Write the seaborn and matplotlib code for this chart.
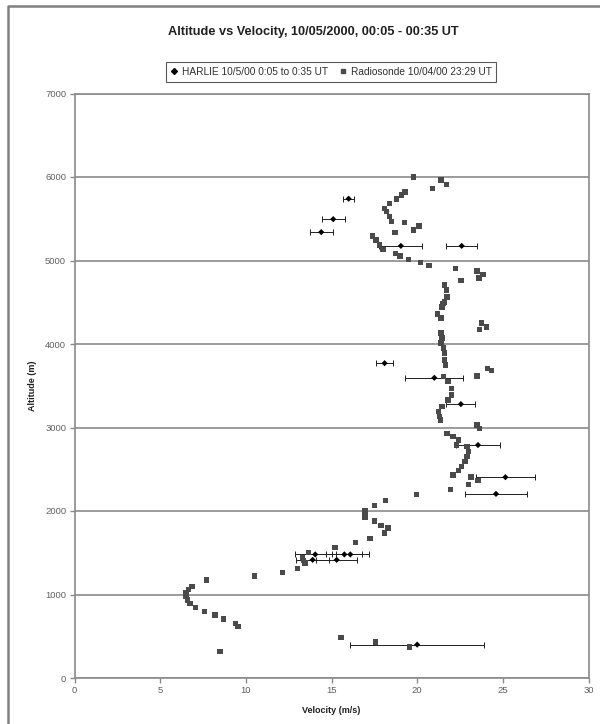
import matplotlib
matplotlib.use("Agg")
import matplotlib.pyplot as plt
import seaborn as sns
import pandas as pd
from matplotlib.lines import Line2D

# Radiosonde 10/04/00 23:29 UT
radio_vel = [19.8, 21.4, 21.7, 20.9, 19.3, 19.1, 18.8, 18.4, 18.1, 18.2, 18.4, 18.5,
             19.25, 18.7, 20.1, 19.8, 17.4, 17.6, 17.8, 18.0, 18.75, 19.0, 19.5, 20.2,
             20.7, 22.25, 23.5, 23.85, 23.6, 22.55, 21.6, 21.7, 21.75, 21.6, 21.45,
             21.5, 21.2, 21.4, 21.4, 21.45, 21.4, 21.55, 21.6, 21.6, 21.65,
             23.75, 24.05, 23.65, 23.5, 24.1, 24.35,
             21.55, 21.8, 22.0, 22.0, 21.8, 21.45, 21.25, 21.3, 21.35, 23.5, 23.65,
             21.75, 22.1, 22.4, 22.3, 22.9, 23.0, 22.9, 22.8, 22.6, 22.4, 22.1,
             23.15, 23.55, 23.0, 21.95, 19.95, 18.15, 17.5, 16.95, 16.95, 16.95,
             17.5, 17.9, 18.3, 18.1, 17.25, 16.4, 15.2,
             13.65, 13.3, 13.35, 13.45, 13.0, 12.15, 10.5, 7.7,
             6.85, 6.65, 6.5, 6.5, 6.6, 6.75, 7.05, 7.6, 8.2, 8.7, 9.4, 9.55, 8.5,
             15.55, 17.55, 19.55]
radio_alt = [6000, 5965, 5910, 5865, 5820, 5785, 5735, 5685, 5625, 5585, 5525, 5465,
             5455, 5335, 5415, 5365, 5295, 5245, 5185, 5135, 5085, 5055, 5015, 4975,
             4940, 4905, 4875, 4835, 4790, 4760, 4705, 4645, 4565, 4505, 4445,
             4485, 4360, 4310, 4130, 4070, 4010, 3950, 3890, 3810, 3750,
             4250, 4205, 4175, 3615, 3710, 3680,
             3610, 3550, 3470, 3390, 3330, 3250, 3190, 3130, 3090, 3030, 2990,
             2930, 2890, 2850, 2790, 2770, 2710, 2650, 2590, 2530, 2485, 2430,
             2405, 2365, 2320, 2260, 2200, 2125, 2065, 2005, 1965, 1930,
             1880, 1830, 1795, 1735, 1670, 1620, 1565,
             1500, 1445, 1405, 1375, 1315, 1265, 1220, 1175,
             1095, 1060, 1020, 975, 935, 895, 845, 800, 755, 705, 655, 615, 315,
             485, 430, 370]

# HARLIE 10/5/00 0:05 to 0:35 UT
harlie_vel = [16.0, 15.1, 14.4, 19.05, 22.6, 18.1, 21.0, 22.55, 23.55, 25.15, 24.6,
              14.05, 15.75, 16.1, 13.9, 15.3, 20.0]
harlie_alt = [5740, 5495, 5340, 5175, 5175, 3770, 3595, 3280, 2790, 2405, 2205,
              1480, 1480, 1480, 1415, 1415, 400]
harlie_err = [0.3, 0.68, 0.66, 1.25, 0.9, 0.5, 1.7, 0.85, 1.3, 1.7, 1.83,
              1.2, 1.05, 1.1, 0.95, 1.2, 3.9]

x_ticks = [0, 5, 10, 15, 20, 25, 30]
y_ticks = [0, 1000, 2000, 3000, 4000, 5000, 6000, 7000]

title = "Altitude vs Velocity, 10/05/2000, 00:05 - 00:35 UT"
harlie_label = "HARLIE 10/5/00 0:05 to 0:35 UT"
radio_label = "Radiosonde 10/04/00 23:29 UT"

sns.set_theme(style="white")
plt.rcParams['font.family'] = ['Liberation Sans', 'DejaVu Sans']

fig = plt.figure(figsize=(6.0, 7.24), dpi=100)
ax = fig.add_axes([74.5 / 600, 46 / 724, (588.5 - 74.5) / 600, (678 - 93.5) / 724])

grid_col = "#8a8a8a"
tick_col = "#606060"

radio_df = pd.DataFrame({"vel": radio_vel, "alt": radio_alt})
harlie_df = pd.DataFrame({"vel": harlie_vel, "alt": harlie_alt, "err": harlie_err})

ax.errorbar(harlie_df["vel"], harlie_df["alt"], xerr=harlie_df["err"], fmt="none",
            ecolor="#202020", elinewidth=0.7, capsize=2.2, capthick=0.7, zorder=3)
sns.scatterplot(data=radio_df, x="vel", y="alt", ax=ax, marker="s", s=15,
                color="#4a4a4a", edgecolor="none", zorder=4)
sns.scatterplot(data=harlie_df, x="vel", y="alt", ax=ax, marker="D", s=10,
                color="#000000", edgecolor="none", zorder=5)

ax.set_xlim(0, 30)
ax.set_ylim(0, 7000)
ax.set_xticks(x_ticks)
ax.set_yticks(y_ticks)
ax.set_xticklabels([str(t) for t in x_ticks])
ax.set_yticklabels([str(t) for t in y_ticks])
ax.yaxis.grid(True, color=grid_col, linewidth=1.2)
ax.xaxis.grid(False)
ax.set_axisbelow(True)
for side in ["left", "bottom", "right", "top"]:
    ax.spines[side].set_color(grid_col)
    ax.spines[side].set_linewidth(1.2)
ax.tick_params(axis="both", which="major", direction="out", length=3.5, width=1.0,
               color=grid_col, labelsize=6.8, labelcolor=tick_col, pad=2.5,
               bottom=True, left=True)

ax.set_xlabel("Velocity (m/s)", fontsize=6.5, fontweight="bold", color="#202020", labelpad=8)
ax.set_ylabel("Altitude (m)", fontsize=6.5, fontweight="bold", color="#202020", labelpad=6)

fig.text(313 / 600, 1 - 32 / 724, title, ha="center", va="center",
         fontsize=9.2, fontweight="bold", color="#202020")

handles = [
    Line2D([0], [0], marker="D", linestyle="none", color="black", markersize=3),
    Line2D([0], [0], marker="s", linestyle="none", color="#4a4a4a", markersize=3.5),
]
leg = fig.legend(handles, [harlie_label, radio_label], loc="center",
                 bbox_to_anchor=(331 / 600, 1 - 72 / 724), ncol=2, fontsize=7.3,
                 frameon=True, fancybox=False, handlelength=0.8, handletextpad=0.4,
                 columnspacing=1.0, borderpad=0.45, labelcolor="#303030")
leg.get_frame().set_edgecolor("#303030")
leg.get_frame().set_linewidth(0.8)

# outer chart-area border (left and top)
fig.add_artist(Line2D([8 / 600, 8 / 600, 1.0], [0.0, 1 - 6 / 724, 1 - 6 / 724],
                      transform=fig.transFigure, color="#808080", linewidth=1.8))

fig.savefig("out.png", dpi=100)
